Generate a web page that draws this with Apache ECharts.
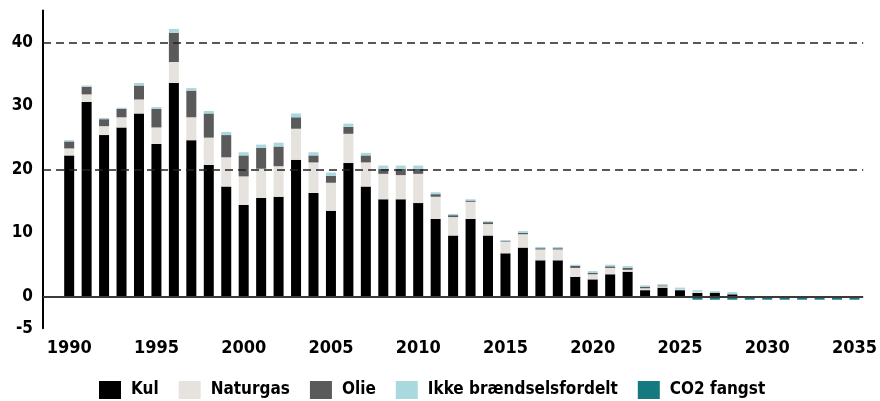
<!DOCTYPE html>
<html>
<head>
<meta charset="utf-8">
<script src="https://cdn.jsdelivr.net/npm/echarts@6/dist/echarts.min.js"></script>
<style>
  html, body { margin: 0; padding: 0; background: #fff; }
  #chart { width: 880px; height: 401px; }
</style>
</head>
<body>
<div id="chart"></div>
<script>
const years = [];
for (let y = 1990; y <= 2035; y++) years.push(String(y));

const kul = [22.2, 30.6, 25.4, 26.6, 28.8, 24.0, 33.6, 24.6, 20.7, 17.3,
  14.4, 15.5, 15.7, 21.5, 16.3, 13.5, 21.0, 17.3, 15.3, 15.3,
  14.7, 12.2, 9.6, 12.2, 9.6, 6.8, 7.7, 5.7, 5.7, 3.1,
  2.7, 3.5, 3.9, 1.0, 1.4, 1.0, 0.55, 0.6, 0.35, 0,
  0, 0, 0, 0, 0, 0];
const naturgas = [1.1, 1.2, 1.4, 1.6, 2.2, 2.6, 3.3, 3.6, 4.3, 4.6,
  4.5, 4.6, 4.8, 4.9, 4.8, 4.4, 4.6, 3.8, 4.0, 3.8,
  4.6, 3.5, 2.9, 2.7, 1.8, 1.8, 2.1, 1.7, 1.7, 1.4,
  0.8, 1.0, 0.3, 0.3, 0.2, 0.1, 0.2, 0.05, 0.05, 0,
  0, 0, 0, 0, 0, 0];
const olie = [1.1, 1.2, 1.1, 1.3, 2.2, 2.9, 4.6, 4.2, 3.8, 3.5,
  3.3, 3.3, 3.1, 1.8, 1.1, 1.1, 1.1, 1.1, 0.8, 1.0,
  0.8, 0.4, 0.3, 0.2, 0.3, 0.1, 0.2, 0.2, 0.2, 0.3,
  0.2, 0.25, 0.3, 0.25, 0.15, 0, 0, 0, 0, 0,
  0, 0, 0, 0, 0, 0];
const ikke = [0.2, 0.2, 0.2, 0.2, 0.4, 0.3, 0.6, 0.4, 0.4, 0.5,
  0.5, 0.5, 0.6, 0.6, 0.5, 0.5, 0.5, 0.4, 0.5, 0.5,
  0.5, 0.3, 0.2, 0.2, 0.15, 0.2, 0.3, 0.2, 0.2, 0.2,
  0.3, 0.25, 0.3, 0.2, 0.2, 0.3, 0.25, 0.2, 0.3, 0,
  0, 0, 0, 0, 0, 0];
const co2 = [0, 0, 0, 0, 0, 0, 0, 0, 0, 0,
  0, 0, 0, 0, 0, 0, 0, 0, 0, 0,
  0, 0, 0, 0, 0, 0, 0, 0, 0, 0,
  0, 0, 0, 0, 0, 0, -0.5, -0.5, -0.5, -0.5,
  -0.5, -0.5, -0.5, -0.5, -0.5, -0.5];

const yLabels = [-5, 0, 10, 20, 30, 40];
const refLines = [20, 40];

const FONT = '"DejaVu Sans Condensed", "Liberation Sans Narrow", Roboto, sans-serif';
const COLORS = { kul: '#000000', gas: '#e6e3de', olie: '#5a5a5a', ikke: '#a9d8df', co2: '#147a80' };

const names = ['Kul', 'Naturgas', 'Olie', 'Ikke brændselsfordelt', 'CO2 fangst'];
const seriesData = [kul, naturgas, olie, ikke, co2];
const seriesColors = [COLORS.kul, COLORS.gas, COLORS.olie, COLORS.ikke, COLORS.co2];

const chart = echarts.init(document.getElementById('chart'), null, { renderer: 'canvas' });

const barSeries = names.map((n, i) => ({
  name: n,
  type: 'bar',
  stack: 'total',
  barWidth: 10,
  z: 3,
  itemStyle: { color: seriesColors[i] },
  data: [null].concat(seriesData[i]),
}));

chart.setOption({
  animation: false,
  backgroundColor: '#fff',
  grid: { left: 43, right: 15, top: 10.5, bottom: 72.7, containLabel: false },
  legend: {
    data: names,
    left: 94, top: 376,
    itemWidth: 22, itemHeight: 18, itemGap: 20,
    icon: 'rect',
    textStyle: { fontFamily: FONT, fontSize: 17, fontWeight: 'bold', color: '#000', padding: [0, 0, 0, 5] },
  },
  xAxis: {
    type: 'category',
    data: [''].concat(years),
    axisLine: { show: false, onZero: false },
    axisTick: { show: false },
    axisLabel: {
      interval: (i, v) => v !== '' && Number(v) % 5 === 0,
      fontFamily: FONT, fontSize: 18, fontWeight: 'bold', color: '#000', margin: 11,
    },
  },
  yAxis: {
    type: 'value',
    min: -5, max: 45, interval: 5,
    axisLine: { show: true, lineStyle: { color: '#000', width: 2 } },
    axisTick: { show: false },
    splitLine: { show: false },
    axisLabel: {
      fontFamily: FONT, fontSize: 17, fontWeight: 'bold', color: '#000', margin: 10,
      formatter: (v) => (yLabels.includes(v) ? String(v) : ''),
    },
  },
  series: [
    {
      name: 'ref', type: 'line', data: [], z: 1, silent: true,
      markLine: {
        silent: true, symbol: 'none', label: { show: false },
        data: refLines.map((v) => ({ yAxis: v, lineStyle: { color: '#222', type: [8, 5], width: 1.5 } })),
      },
    },
    ...barSeries,
    {
      name: 'zero', type: 'line', data: [], z: 5, silent: true,
      markLine: {
        silent: true, symbol: 'none', label: { show: false },
        data: [{ yAxis: 0, lineStyle: { color: '#3a3a3a', type: 'solid', width: 2 } }],
      },
    },
  ],
});
</script>
</body>
</html>
